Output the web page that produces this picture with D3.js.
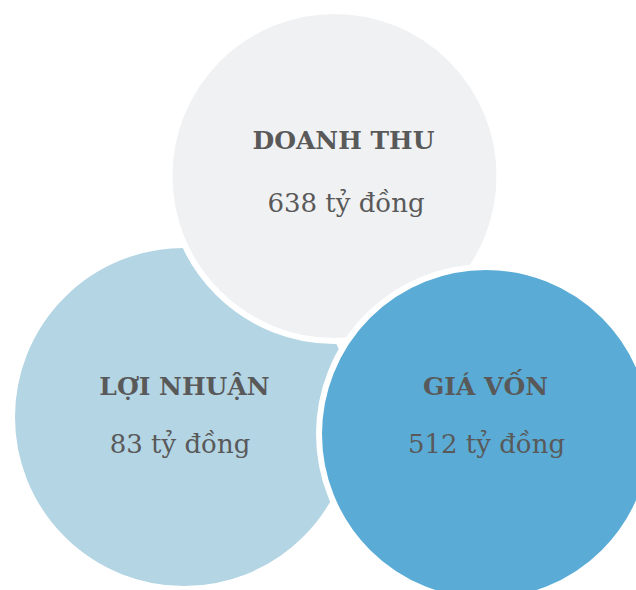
<!DOCTYPE html>
<html><head><meta charset="utf-8">
<script src="https://cdn.jsdelivr.net/npm/d3@7"></script>
<style>html,body{margin:0;padding:0;background:#fff;}svg{display:block;}</style>
</head><body>
<script>
const categories = ["LỢI NHUẬN", "DOANH THU", "GIÁ VỐN"];
const values = [83, 638, 512];
const unit = "tỷ đồng";

// layout (style, not data)
const W = 636, H = 590;
const circles = [
  {cx: 184, cy: 417, r: 169, fill: "#b4d5e4", tx: 184.5, ty: 395, vx: 180, vy: 453},
  {cx: 334.5, cy: 176, r: 162, fill: "#f0f1f3", tx: 343.5, ty: 149, vx: 346, vy: 212},
  {cx: 486, cy: 434, r: 164, fill: "#5aacd7", tx: 485.5, ty: 395, vx: 486.5, vy: 453}
];
const gap = 6;

const svg = d3.select("body").append("svg").attr("width", W).attr("height", H);

const nodes = categories.map((c, i) => ({name: c, value: values[i], ...circles[i]}));

const g = svg.selectAll("g.node").data(nodes).join("g").attr("class", "node");
g.append("circle")
  .attr("cx", d => d.cx).attr("cy", d => d.cy)
  .attr("r", d => d.r + gap / 2)
  .attr("fill", d => d.fill)
  .attr("stroke", "#fff").attr("stroke-width", gap);

g.append("text")
  .attr("x", d => d.tx).attr("y", d => d.ty)
  .attr("text-anchor", "middle")
  .attr("font-family", "'DejaVu Serif', serif")
  .attr("font-weight", "bold")
  .attr("font-size", 25)
  .attr("fill", "#595959")
  .text(d => d.name);

g.append("text")
  .attr("x", d => d.vx).attr("y", d => d.vy)
  .attr("text-anchor", "middle")
  .attr("font-family", "'DejaVu Serif', serif")
  .attr("font-size", 26)
  .attr("fill", "#595959")
  .text(d => d3.format("d")(d.value) + " " + unit);
</script>
</body></html>
